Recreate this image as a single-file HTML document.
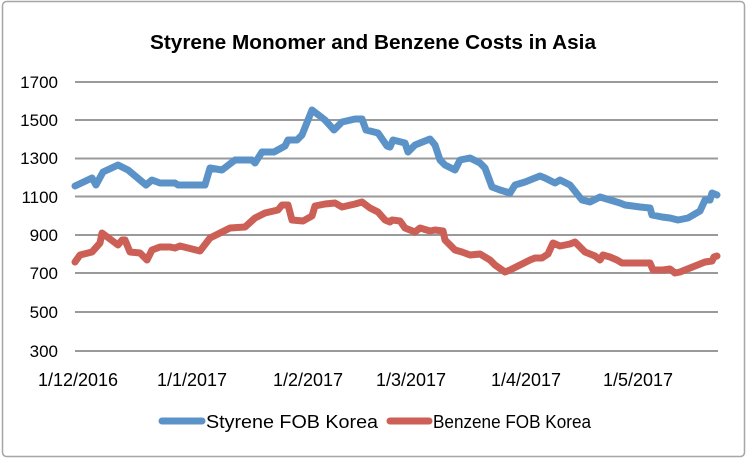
<!DOCTYPE html>
<html><head><style>
html,body{margin:0;padding:0;background:#fff;}
</style></head><body>
<svg width="748" height="460" xmlns="http://www.w3.org/2000/svg" font-family="Liberation Sans, sans-serif">
<rect x="2.5" y="1.5" width="742" height="455" rx="4" fill="#fff" stroke="#a6a6a6" stroke-width="1.5"/>
<text x="373" y="49" text-anchor="middle" font-size="20" font-weight="bold" fill="#000" textLength="446" lengthAdjust="spacingAndGlyphs">Styrene Monomer and Benzene Costs in Asia</text>
<g stroke="#9a9a9a" stroke-width="2">
<line x1="75" x2="718" y1="82" y2="82"/>
<line x1="75" x2="718" y1="120" y2="120"/>
<line x1="75" x2="718" y1="158.5" y2="158.5"/>
<line x1="75" x2="718" y1="196.5" y2="196.5"/>
<line x1="75" x2="718" y1="235" y2="235"/>
<line x1="75" x2="718" y1="273" y2="273"/>
<line x1="75" x2="718" y1="312" y2="312"/>
<line x1="75" x2="718" y1="351" y2="351"/>
</g>
<g font-size="17" fill="#000" text-anchor="end">
<text x="58" y="88">1700</text><text x="58" y="126">1500</text><text x="58" y="164">1300</text>
<text x="58" y="203">1100</text><text x="58" y="241">900</text><text x="58" y="279">700</text>
<text x="58" y="318">500</text><text x="58" y="357">300</text>
</g>
<g font-size="18" fill="#000" text-anchor="middle">
<text x="78" y="386">1/12/2016</text><text x="192" y="386">1/1/2017</text><text x="308" y="386">1/2/2017</text>
<text x="411" y="386">1/3/2017</text><text x="526" y="386">1/4/2017</text><text x="638" y="386">1/5/2017</text>
</g>
<polyline fill="none" stroke="#5b93c8" stroke-width="7" stroke-linejoin="round" stroke-linecap="round" points="75,186 92,178 96,185 103,172 118,165 128,170 146,185 152,180 160,183 175,183 178,185 205,185 210,168 222,170 235,160 252,160 255,163 262,152 274,152 285,146 288,140 297,140 302,135 312,110 325,120 334,130 342,122 355,119 362,119 366,130 378,133 387,146 390,147 393,140 405,143 408,152 415,145 430,139 435,145 440,160 445,165 455,170 460,160 470,158 480,163 485,168 492,187 500,190 510,193 515,185 525,182 540,176 545,178 555,183 560,180 570,185 582,200 590,202 600,197 610,200 620,203 625,205 640,207 650,208 652,215 662,217 670,218 678,220 688,218 700,211 705,200 710,200 712,193 717,195"/>
<polyline fill="none" stroke="#cc5f56" stroke-width="7" stroke-linejoin="round" stroke-linecap="round" points="75,262 80,255 92,252 100,243 102,233 118,245 122,240 125,240 130,252 140,253 147,260 152,250 160,247 170,247 175,248 180,246 200,251 210,238 220,233 230,228 245,227 255,218 265,213 278,210 282,205 288,205 292,220 303,221 312,216 315,206 325,204 335,203 342,207 355,204 362,202 370,208 378,212 385,220 390,222 392,220 400,221 405,228 415,232 420,228 430,231 435,230 443,231 445,240 455,250 462,252 470,255 480,254 490,260 495,265 505,272 510,270 520,265 530,260 535,258 542,258 548,254 553,243 560,246 570,244 575,242 580,247 585,252 595,256 600,260 603,255 610,257 617,260 622,263 640,263 650,263 653,270 663,270 670,269 675,273 680,272 690,268 700,264 705,262 712,261 714,257 717,256"/>
<line x1="162" x2="202" y1="421" y2="421" stroke="#5b93c8" stroke-width="7" stroke-linecap="round"/>
<text x="206" y="428" font-size="18" fill="#000" textLength="172" lengthAdjust="spacingAndGlyphs">Styrene FOB Korea</text>
<line x1="390" x2="429" y1="421" y2="421" stroke="#cc5f56" stroke-width="7" stroke-linecap="round"/>
<text x="433" y="428" font-size="18" fill="#000" textLength="158" lengthAdjust="spacingAndGlyphs">Benzene FOB Korea</text>
</svg>
</body></html>
